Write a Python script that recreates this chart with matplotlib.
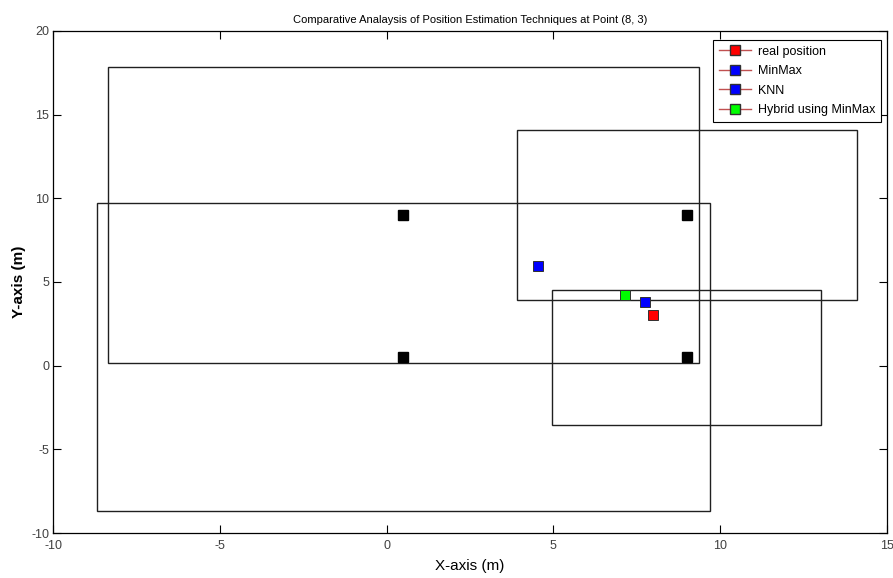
import matplotlib
matplotlib.use("Agg")
import matplotlib.pyplot as plt
from matplotlib.patches import Rectangle
from matplotlib.lines import Line2D

plt.rcParams['font.family'] = ['Liberation Sans', 'DejaVu Sans']
plt.rcParams['axes.unicode_minus'] = False

# Anchor nodes and MinMax bounding-box half sizes
anchor_x = [0.5, 9.0, 0.5, 9.0]
anchor_y = [9.0, 9.0, 0.5, 0.5]
box_half = [8.86, 5.1, 9.2, 4.04]

# Estimates
real_pos = (8.0, 3.0)
minmax_pos = (4.55, 5.94)
knn_pos = (7.76, 3.79)
hybrid_pos = (7.15, 4.21)

labels = ['real position', 'MinMax', 'KNN', 'Hybrid using MinMax']
colors = ['#ff0000', '#0000ff', '#0000ff', '#00ff00']

fig = plt.figure(figsize=(8.93, 5.78), dpi=100)
ax = fig.add_axes([0.0596, 0.0777, 0.9332, 0.8689])

for x, y, h in zip(anchor_x, anchor_y, box_half):
    ax.add_patch(Rectangle((x - h, y - h), 2 * h, 2 * h, fill=False,
                           edgecolor='#202020', linewidth=1.0, zorder=2))

ax.plot(anchor_x, anchor_y, 's', color='black', markersize=6.5,
        markeredgecolor='black', linestyle='none', zorder=3)

pts = [real_pos, minmax_pos, knn_pos, hybrid_pos]
for (px, py), c in zip(pts, colors):
    ax.plot([px], [py], 's', markerfacecolor=c, markeredgecolor='#303030',
            markersize=6.5, markeredgewidth=0.7, linestyle='none', zorder=4)

ax.set_xlim(-10, 15)
ax.set_ylim(-10, 20)
ax.set_xticks([-10, -5, 0, 5, 10, 15])
ax.set_yticks([-10, -5, 0, 5, 10, 15, 20])
ax.tick_params(direction='in', length=6, width=0.8, top=True, right=True,
               labelsize=9, labelcolor='#404040')
ax.tick_params(axis='x', pad=5)
ax.tick_params(axis='y', pad=3)
for s in ax.spines.values():
    s.set_linewidth(0.9)

ax.set_title('Comparative Analaysis of Position Estimation Techniques at Point (8, 3)',
             fontsize=8, pad=6)
ax.set_xlabel('X-axis (m)', fontsize=11, labelpad=5)
ax.set_ylabel('Y-axis (m)', fontsize=11, fontweight='bold', labelpad=4)

handles = [Line2D([0], [0], color='#c05050', linewidth=1.0, marker='s',
                  markerfacecolor=c, markeredgecolor='#303030', markersize=6.5)
           for c in colors]
leg = ax.legend(handles, labels, loc='upper right', fontsize=9,
                fancybox=False, framealpha=1, edgecolor='black',
                handlelength=2.6, handletextpad=0.5, borderpad=0.45,
                labelspacing=0.6, borderaxespad=0, bbox_to_anchor=(0.993, 0.982))
leg.get_frame().set_linewidth(0.8)

fig.savefig('out.png', dpi=100)
